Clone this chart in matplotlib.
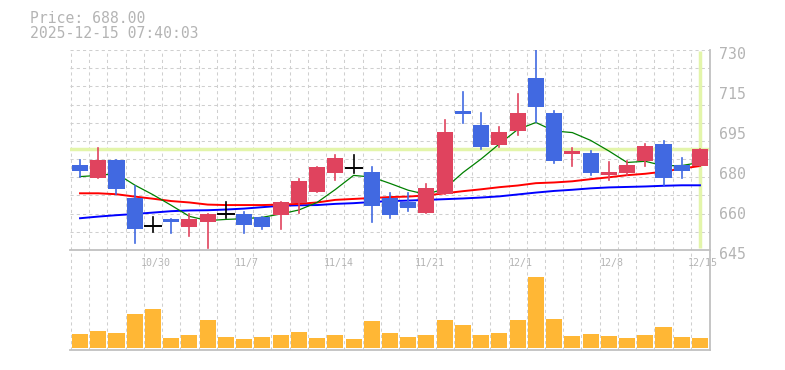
import matplotlib
matplotlib.use('Agg')
import matplotlib.pyplot as plt
from matplotlib.transforms import ScaledTranslation

# daily candles, 10/24 .. 12/15
opens = [681.1, 675.7, 683.3, 667.1, 655.1, 658.2, 654.9, 657.0, 660.3, 660.3,
         659.0, 660.0, 665.1, 669.8, 677.9, 680.0, 678.2, 667.2, 665.4, 660.9,
         668.9, 704.1, 698.1, 689.6, 695.7, 718.2, 703.2, 685.9, 686.2, 676.9,
         677.7, 683.0, 690.1, 681.1, 680.7]
highs = [683.3, 688.5, 683.3, 672.2, 659.0, 658.2, 660.3, 660.3, 665.4, 661.2,
         659.0, 665.4, 675.2, 680.3, 685.4, 685.4, 680.3, 669.1, 669.1, 673.1,
         700.3, 712.2, 703.2, 697.3, 711.3, 731.0, 704.1, 688.5, 687.1, 682.4,
         682.8, 690.1, 691.3, 684.1, 688.0]
lows = [675.9, 675.7, 668.8, 648.1, 652.8, 652.1, 651.0, 646.0, 658.7, 652.1,
        654.1, 654.1, 660.9, 669.8, 674.9, 677.9, 657.0, 658.7, 661.7, 660.9,
        668.9, 699.1, 687.9, 688.8, 694.0, 699.4, 682.1, 680.8, 676.9, 674.9,
        676.9, 680.8, 672.6, 675.7, 680.7]
closes = [678.7, 683.3, 671.1, 654.1, 655.1, 657.0, 658.2, 660.3, 660.3, 655.8,
          654.9, 665.4, 674.3, 680.3, 684.1, 680.0, 663.8, 660.0, 663.0, 671.5,
          695.2, 702.9, 688.8, 695.2, 703.2, 705.9, 683.0, 687.1, 677.9, 678.2,
          681.1, 689.2, 675.7, 678.7, 688.0]
volumes = [28, 34, 30, 68, 78, 20, 26, 56, 22, 18, 22, 26, 32, 20, 26, 18, 54, 30,
           22, 26, 56, 46, 26, 30, 56, 142, 58, 24, 28, 24, 20, 26, 42, 22, 20]

ma_short = [676.2, 676.7, 677.5, 672.6, 668.5, 664.0, 659.3, 657.5, 658.0, 658.3,
            658.9, 660.3, 662.0, 665.2, 670.7, 676.7, 676.0, 673.3, 670.4, 668.6,
            671.1, 677.9, 683.7, 690.1, 696.2, 699.2, 695.6, 694.9, 691.6, 687.1,
            682.2, 682.7, 680.8, 680.9, 682.2]
ma_mid = [669.1, 669.1, 668.7, 667.7, 666.8, 665.8, 665.2, 664.3, 664.1, 664.1,
          664.1, 664.3, 664.6, 665.2, 666.3, 666.7, 667.1, 667.5, 667.7, 668.2,
          669.1, 670.0, 670.8, 671.7, 672.4, 673.4, 673.7, 674.2, 675.1, 675.9,
          676.8, 677.4, 678.3, 679.6, 680.7]
ma_long = [658.5, 659.2, 659.8, 660.3, 660.9, 661.5, 661.8, 661.9, 662.2, 662.6,
           663.2, 663.8, 664.0, 664.1, 664.6, 664.9, 665.4, 665.8, 666.0, 666.3,
           666.6, 666.9, 667.3, 667.8, 668.6, 669.4, 670.1, 670.6, 671.2, 671.6,
           671.8, 672.0, 672.3, 672.5, 672.5]

date_ticks = [4, 9, 14, 19, 24, 29, 34]
date_labels = ['10/30', '11/7', '11/14', '11/21', '12/1', '12/8', '12/15']
price_ticks = [645, 662, 679, 696, 713, 730]
price_labels = ['645', '660', '680', '695', '715', '730']
last_price = 688.00
stamp = '2025-12-15 07:40:03'

UP = '#e0435e'
DOWN = '#4169e1'
TXT = '#b4b4b4'
EDGE = '#c0c0c0'
GRID = '#cfcfcf'
NOW = '#e3f5aa'

plt.rcParams['font.family'] = ['DejaVu Sans Mono', 'DejaVu Sans']

fig = plt.figure(figsize=(7.85, 3.7), dpi=100)
ax = fig.add_axes([70 / 785, 120 / 370, 640 / 785, 200 / 370])
axv = fig.add_axes([70 / 785, 20 / 370, 640 / 785, 100 / 370])
axv.patch.set_alpha(0)

n = len(closes)
x = list(range(n))
ymin, ymax = 645, 730

for a in (ax, axv):
    a.set_xlim(-0.55, n - 0.45)
    for k in range(-1, n - 1):
        a.axvline(k + 0.5, color=GRID, lw=0.75, ls=(0, (3, 3)), zorder=0)
    for s in ('top', 'left'):
        a.spines[s].set_visible(False)
    for s in ('bottom', 'right'):
        a.spines[s].set_color(EDGE)
        a.spines[s].set_linewidth(1.3)

for k in range(12):
    ax.axhline(ymin + k * (ymax - ymin) / 11, color=GRID, lw=0.75,
               ls=(0, (3, 3)), zorder=0)

# current price markers
ax.axhline(last_price, color=NOW, lw=2.5, zorder=1)
ax.plot([x[-1], x[-1]], [645.7, 729.7], color=NOW, lw=2.5, zorder=1,
        solid_capstyle='butt')

ax.plot(x, ma_long, color='#0000ff', lw=1.4, zorder=2)
ax.plot(x, ma_mid, color='#ff0000', lw=1.4, zorder=2)
ax.plot(x, ma_short, color='#008000', lw=0.9, zorder=2)

w = 0.88
for i in x:
    o, h, l, c = opens[i], highs[i], lows[i], closes[i]
    if c == o:
        ax.plot([i, i], [l, h], color='black', lw=1.2, zorder=4)
        ax.plot([i - w / 2, i + w / 2], [c, c], color='black', lw=1.4, zorder=4)
        continue
    col = UP if c > o else DOWN
    ax.plot([i, i], [l, h], color=col, lw=1.2, zorder=3)
    ax.bar(i, abs(c - o), bottom=min(o, c), width=w, color=col, zorder=3)

ax.set_ylim(ymin, ymax)
ax.yaxis.tick_right()
ax.set_yticks(price_ticks)
ax.set_yticklabels(price_labels)
ax.tick_params(axis='y', length=0, pad=6.5, labelsize=10.7, labelcolor=TXT)
ax.set_xticks(date_ticks)
ax.set_xticklabels(date_labels)
ax.tick_params(axis='x', length=0, pad=6, labelsize=7.2, labelcolor=TXT)
for lab in ax.get_yticklabels():
    lab.set_transform(lab.get_transform() + ScaledTranslation(0, -0.03, fig.dpi_scale_trans))
for lab in ax.get_xticklabels():
    lab.set_transform(lab.get_transform() + ScaledTranslation(0.03, 0, fig.dpi_scale_trans))

axv.bar(x, volumes, width=w, color='#ffb735', zorder=2)
axv.set_ylim(-4, 196)
axv.set_xticks([])
axv.set_yticks([])

fig.text(30 / 785, 1 - 23.3 / 370, f'Price: {last_price:.2f}', color=TXT,
         fontsize=10.6, va='baseline')
fig.text(30 / 785, 1 - 38.3 / 370, stamp, color=TXT, fontsize=10.6,
         va='baseline')

fig.savefig('out.png', dpi=100)
